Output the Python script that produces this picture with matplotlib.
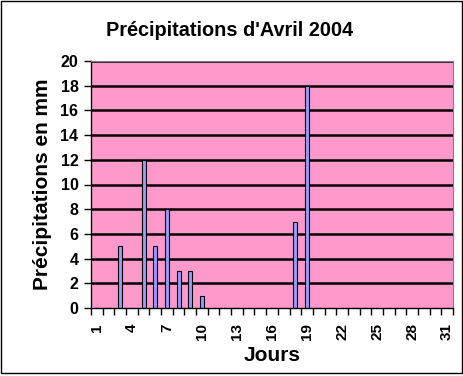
import numpy as np
import matplotlib
matplotlib.use("Agg")
import matplotlib.pyplot as plt
from matplotlib.patches import Rectangle

plt.rcParams['font.family'] = ['Liberation Sans', 'DejaVu Sans']

jours = list(range(1, 32))
pluie = [0, 0, 5, 0, 12, 5, 8, 3, 3, 1, 0, 0, 0, 0, 0, 0, 0, 7, 18,
         0, 0, 0, 0, 0, 0, 0, 0, 0, 0, 0, 0]
tick_labels = [str(j) for j in jours[::3]]

fig = plt.figure(figsize=(4.64, 3.76), dpi=100)
ax = fig.add_axes([91/464, 68/376, 362/464, 247/376])

x = np.arange(len(jours))
ax.set_facecolor('#FF99CC')
for y in range(2, 21, 2):
    ax.axhline(y, color='black', lw=1.8, zorder=1)
ax.bar(x, pluie, width=0.35, color='#9999FF', edgecolor='black', lw=0.8, zorder=2)

ax.set_xlim(-0.5, len(jours) - 0.5)
ax.set_ylim(0, 20)
ax.set_yticks(range(0, 21, 2))
ax.set_xticks(x[::3])
ax.set_xticklabels(tick_labels, rotation=90, fontsize=11, fontweight='bold')
ax.set_xticks(np.arange(len(jours) + 1) - 0.5, minor=True)
ax.tick_params(axis='x', which='major', length=0, pad=11)
ax.tick_params(axis='x', which='minor', length=5, width=1, direction='out')
ax.tick_params(axis='y', length=5, width=1, labelsize=11.5, pad=4)
for lab in ax.get_yticklabels():
    lab.set_fontweight('bold')

for s in ['top', 'right']:
    ax.spines[s].set_color('#808080')
for s in ['left', 'bottom']:
    ax.spines[s].set_color('black')
    ax.spines[s].set_linewidth(1)

ax.set_ylabel('Précipitations en mm', fontsize=15, fontweight='bold', labelpad=6)
ax.set_xlabel('Jours', fontsize=15, fontweight='bold', labelpad=4)
fig.text(0.5 - 2/464, 1 - 30/376, "Précipitations d'Avril 2004", ha='center', va='center',
         fontsize=14.3, fontweight='bold')

fig.patches.append(Rectangle((0.5/464, 3/376), 461.5/464, 372.5/376, transform=fig.transFigure,
                             fill=False, edgecolor='black', lw=1))

fig.savefig('out.png', dpi=100, facecolor='white')
